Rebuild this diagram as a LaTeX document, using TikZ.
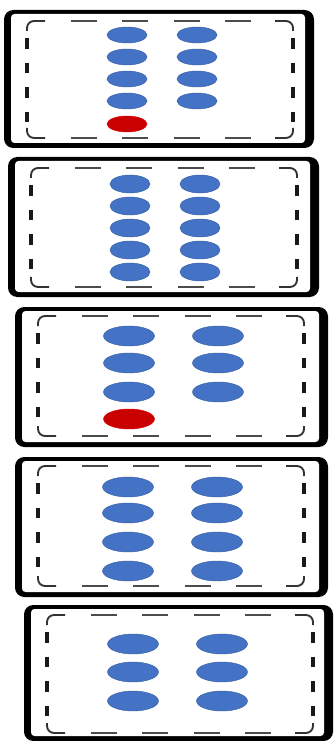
\documentclass[tikz,border=0pt]{standalone}
\usetikzlibrary{shapes.geometric}
\usepackage{xcolor}
\definecolor{slideblue}{HTML}{4472C4}
\definecolor{slidered}{HTML}{C80000}
\definecolor{slideink}{HTML}{000000}

% outer l,t,r,b then dashed inner l,t,r,b (pixel units)
\newcommand{\slidecard}[8]{%
  \fill[slideink, rounded corners=8pt] (#1,#2) rectangle (#3,#4);
  \fill[white, rounded corners=3pt] ({#1+7},{#2+4}) rectangle ({#3-9},{#4-5});
  \draw[cornerline] (#5,{#6+10}) -- (#5,#6) -- ({#5+18},#6);
  \draw[cornerline] ({#7-18},#6) -- (#7,#6) -- (#7,{#6+10});
  \draw[cornerline] (#5,{#8-10}) -- (#5,#8) -- ({#5+18},#8);
  \draw[cornerline] ({#7-18},#8) -- (#7,#8) -- (#7,{#8-10});
  \draw[hdash] ({#5+18},#6) -- ({#7-18},#6);
  \draw[hdash] ({#5+18},#8) -- ({#7-18},#8);
  \draw[vdash] (#5,{#6+10}) -- (#5,{#8-10});
  \draw[vdash] (#7,{#6+10}) -- (#7,{#8-10});
}

\begin{document}
\begin{tikzpicture}[
  x=0.03cm,
  y=-0.03cm,
  cornerline/.style={slideink!80, line width=1.6pt, rounded corners=6pt},
  hdash/.style={slideink!70, line width=1.3pt, dash pattern=on 22pt off 22pt, dash phase=22pt},
  vdash/.style={slideink!90, line width=2.8pt, dash pattern=on 9pt off 12pt, dash phase=15pt},
  blob/.style={ellipse, fill=slideblue, draw=slideblue!85!black, line width=0.4pt, inner sep=0pt},
  redblob/.style={blob, fill=slidered, draw=red!90!black},
  small/.style={minimum width=1.2cm, minimum height=0.48cm},
  medium/.style={minimum width=1.2cm, minimum height=0.54cm},
  large/.style={minimum width=1.53cm, minimum height=0.6cm}
]
  \useasboundingbox (0,0) rectangle (333,741);

  \slidecard{4}{10}{314}{148}{27}{21}{293}{138}
  \slidecard{8}{157}{319}{297}{31}{168}{297}{287}
  \slidecard{15}{307}{328}{447}{38}{316}{304}{436}
  \slidecard{15}{457}{328}{597}{38}{466}{304}{586}
  \slidecard{24}{605}{333}{741}{47}{615}{313}{733}

  \foreach \y [count=\i] in {35,57,79,101} {
    \node[blob, small] (oneL\i) at (127,\y) {};
    \node[blob, small] (oneR\i) at (197,\y) {};
  }
  \node[redblob, small] (oneRed) at (127,124) {};

  \foreach \y [count=\i] in {184,206,228,250,272} {
    \node[blob, medium] (twoL\i) at (130,\y) {};
    \node[blob, medium] (twoR\i) at (200,\y) {};
  }

  \foreach \y [count=\i] in {336,363,392} {
    \node[blob, large] (threeL\i) at (129,\y) {};
    \node[blob, large] (threeR\i) at (218,\y) {};
  }
  \node[redblob, large] (threeRed) at (129,419) {};

  \foreach \y [count=\i] in {487,513,542,571} {
    \node[blob, large] (fourL\i) at (128,\y) {};
    \node[blob, large] (fourR\i) at (217,\y) {};
  }

  \foreach \y [count=\i] in {644,672,701} {
    \node[blob, large] (fiveL\i) at (133,\y) {};
    \node[blob, large] (fiveR\i) at (222,\y) {};
  }
\end{tikzpicture}
\end{document}
